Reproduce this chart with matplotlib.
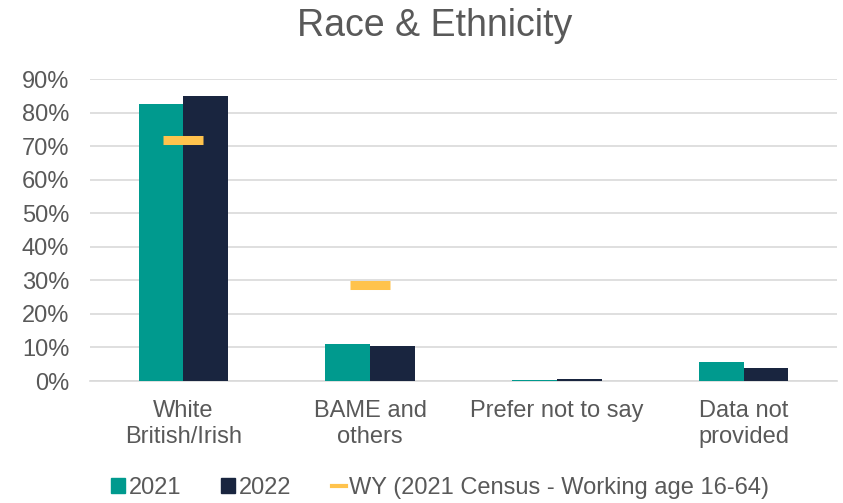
import matplotlib.pyplot as plt
import numpy as np
from matplotlib.lines import Line2D
from matplotlib.patches import Patch

categories = ["White\nBritish/Irish", "BAME and\nothers", "Prefer not to say", "Data not\nprovided"]
v2021 = [82.5, 11.0, 0.3, 5.7]
v2022 = [84.9, 10.4, 0.5, 3.9]
wy = [71.7, 28.5, None, None]
yticks = [0, 10, 20, 30, 40, 50, 60, 70, 80, 90]

teal = "#009A8E"
navy = "#19253F"
gold = "#FFC34D"
txt = "#595959"

plt.rcParams['font.family'] = ['Liberation Sans', 'DejaVu Sans']
fig = plt.figure(figsize=(8.43, 5.03), dpi=100)
ax = fig.add_axes([90/843, (503-381)/503, (837-90)/843, (381-79)/503])

x = np.arange(len(categories))
w = 0.24
ax.bar(x - w/2, v2021, w, color=teal, zorder=3)
ax.bar(x + w/2, v2022, w, color=navy, zorder=3)
wx = [xi for xi, v in zip(x, wy) if v is not None]
wv = [v for v in wy if v is not None]
ax.plot(wx, wv, linestyle='none', marker='_', markersize=29.5, markeredgewidth=6.5,
        color=gold, zorder=4)

ax.set_xlim(-0.5, len(categories) - 0.5)
ax.set_ylim(0, 90)
ax.set_yticks(yticks)
ax.set_yticklabels([f"{t}%" for t in yticks])
ax.set_xticks(x)
ax.set_xticklabels(categories)
ax.tick_params(axis='both', length=0, labelsize=17, colors=txt)
ax.tick_params(axis='x', pad=14)
ax.tick_params(axis='y', pad=15)
for lab in ax.get_xticklabels():
    lab.set_linespacing(1.2)
ax.grid(axis='y', color='#D9D9D9', linewidth=1.2, zorder=0)
for s in ['top', 'right', 'left']:
    ax.spines[s].set_visible(False)
ax.spines['bottom'].set_color('#D9D9D9')
ax.spines['bottom'].set_linewidth(1.2)

fig.text(0.516, 0.948, "Race & Ethnicity", ha='center', va='center', fontsize=27, color=txt)

handles = [Patch(color=teal, label='2021'), Patch(color=navy, label='2022'),
           Line2D([], [], color=gold, linewidth=3, label='WY (2021 Census - Working age 16-64)')]
fig.legend(handles=handles, loc='center', bbox_to_anchor=(0.522, 0.03), ncol=3, frameon=False,
           fontsize=17, labelcolor=txt, handlelength=0.6, handleheight=0.6, handletextpad=0.15,
           columnspacing=1.7)

fig.savefig("out.png", dpi=100)
